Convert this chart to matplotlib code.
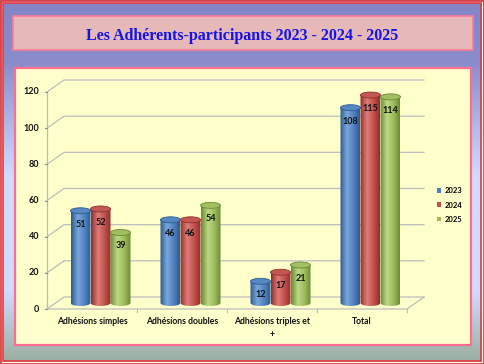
import numpy as np
import matplotlib
matplotlib.use("Agg")
import matplotlib.pyplot as plt
from matplotlib.patches import Rectangle, Ellipse, Polygon, Patch
from matplotlib.colors import LinearSegmentedColormap, to_rgb

# donnees
categories = ["Adhésions simples", "Adhésions doubles", "Adhésions triples et\n+", "Total"]
annees = ["2023", "2024", "2025"]
v2023 = [51, 46, 12, 108]
v2024 = [52, 46, 17, 115]
v2025 = [39, 54, 21, 114]
valeurs = [v2023, v2024, v2025]
yticks = [0, 20, 40, 60, 80, 100, 120]
titre = "Les Adhérents-participants 2023 - 2024 - 2025"

# couleurs (bord sombre, reflet, base)
COUL = [("#2d5a92", "#7aa6dc", "#4f81bd"),
        ("#8e2f2c", "#e07c78", "#c0504d"),
        ("#6a8a34", "#bcd886", "#9bbb59")]

W, H = 484, 364
fig = plt.figure(figsize=(W / 100, H / 100), dpi=100)

# fond degrade
bg = fig.add_axes([0, 0, 1, 1])
bg.set_xlim(0, W)
bg.set_ylim(H, 0)
bg.axis("off")
stops = [(0.0, "#8585c6"), (0.17, "#8a8cca"), (0.48, "#d2daff"),
         (0.80, "#d2daff"), (1.0, "#9aae9e")]
cm_bg = LinearSegmentedColormap.from_list("bg", stops)
grad = np.linspace(0, 1, 256).reshape(-1, 1)
bg.imshow(grad, cmap=cm_bg, extent=[0, W, H, 0], aspect="auto", zorder=0)

# cadre rouge
bg.add_patch(Rectangle((0.5, 0.5), W - 1, H - 1, fill=False, ec="#e8383a", lw=1.2, zorder=2))
bg.add_patch(Rectangle((1.8, 1.8), W - 3.6, H - 3.6, fill=False, ec="#ffffff", lw=0.8, zorder=2))
bg.add_patch(Rectangle((3.3, 3.3), W - 6.6, H - 6.6, fill=False, ec="#e8383a", lw=1.2, zorder=2))

# boite du titre
bg.add_patch(Rectangle((13, 16), 460, 34, fc="#e6b8b8", ec="#ff7a98", lw=1.2, zorder=3))
bg.text(242, 36, titre, ha="center", va="center", color="#1414e6",
        fontsize=11.5, fontweight="bold", family="Liberation Serif", zorder=4)

# panneau du graphique
bg.add_patch(Rectangle((15, 68), 456, 277, fc="#ffffcc", ec="#ff6e90", lw=1.6, zorder=3))

# axes du graphique (pixels -> fractions)
x_left, x_right = 47, 425
y_bot, y_top = 309, 80
ax = fig.add_axes([x_left / W, (H - y_bot) / H, (x_right - x_left) / W, (y_bot - y_top) / H])
ax.patch.set_alpha(0)
ppu_x = 90.0
ppu_y = 217 / 120.0
ax.set_xlim(0, (x_right - x_left) / ppu_x)
ax.set_ylim(0, (y_bot - y_top) / ppu_y)
ax.axis("off")

dx = 17 / ppu_x
dy = 12 / ppu_y
n = len(categories)
gris = "#bdbdbd"

# grille 3D
for t in yticks:
    ax.plot([0, dx, n + dx], [t, t + dy, t + dy], color=gris, lw=0.9, clip_on=False, zorder=1)
    ax.plot([-2 / ppu_x, 0], [t, t], color="#909090", lw=0.8, clip_on=False)
    ax.text(-8 / ppu_x, t, str(t), ha="right", va="center", fontsize=6.5,
            fontweight="bold", family="Lato", color="#111111")
ax.plot([0, 0], [0, yticks[-1]], color=gris, lw=0.9, clip_on=False, zorder=1)
ax.plot([0, n, n + dx], [0, 0, dy], color=gris, lw=0.9, clip_on=False, zorder=1)
for i in range(1, n + 1):
    ax.plot([i, i], [0, -3 / ppu_y], color=gris, lw=0.9, clip_on=False)

for i, c in enumerate(categories):
    ax.text(i + 0.5, -8 / ppu_y, c, ha="center", va="top", fontsize=6.2,
            fontweight="bold", family="Lato", color="#111111", linespacing=1.6)

# barres cylindriques
bw = 20 / ppu_x
eh = 6 / ppu_y
base = dy / 2
t_arc = np.linspace(np.pi, 2 * np.pi, 40)
for k, vals in enumerate(valeurs):
    sombre, clair, coul = COUL[k]
    cmap = LinearSegmentedColormap.from_list("c%d" % k,
                                             [(0, sombre), (0.35, clair), (0.7, coul), (1, sombre)])
    for i, v in enumerate(vals):
        cx = i + 0.5 + dx / 2 + (k - 1) * bw
        x0, x1 = cx - bw / 2, cx + bw / 2
        top = base + v
        pts = [(x0, top)] + list(zip(cx + bw / 2 * np.cos(t_arc), base + eh / 2 * np.sin(t_arc))) + [(x1, top)]
        poly = Polygon(pts, closed=True, transform=ax.transData, fc="none", ec="none")
        ax.add_patch(poly)
        im = ax.imshow(np.linspace(0, 1, 64).reshape(1, -1), cmap=cmap,
                       extent=[x0, x1, base - eh, top], aspect="auto", zorder=3 + k)
        im.set_clip_path(poly)
        cap = np.array(to_rgb(coul)) * 0.85 + 0.15 * np.array(to_rgb(clair))
        ax.add_patch(Ellipse((cx, top), bw, eh, fc=cap, ec=sombre, lw=0.6, zorder=3.5 + k))
        ax.text(cx, top - 7 / ppu_y - eh / 2 + 1 / ppu_y, str(v), ha="center", va="top",
                fontsize=6.5, fontweight="bold", family="Lato", color="#111111", zorder=10)

# legende
handles = [Patch(fc=COUL[k][2], ec="none", label=annees[k]) for k in range(3)]
ax.legend(handles=handles, loc="center left", bbox_to_anchor=(430 / W, (H - 205) / H),
          bbox_transform=fig.transFigure, frameon=False, fontsize=5.5,
          handlelength=0.6, handleheight=0.6, handletextpad=0.4, labelspacing=0.95,
          prop={"family": "Lato", "weight": "bold", "size": 5.5})

fig.savefig("out.png", dpi=100)
